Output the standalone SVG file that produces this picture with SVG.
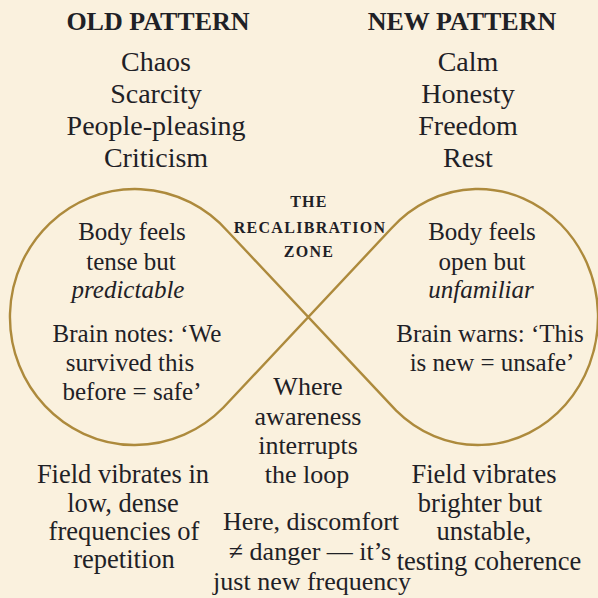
<svg xmlns="http://www.w3.org/2000/svg" width="598" height="598" viewBox="0 0 598 598">
  <style>
    text { font-family: "Liberation Serif", "Times New Roman", serif; fill: #1f2126; text-anchor: middle; }
    .head { font-weight: bold; font-size: 26px; }
    .list { font-size: 28px; }
    .loop { font-size: 25px; }
    .zone { font-weight: bold; font-size: 16px; letter-spacing: 1.3px; }
    .mid { font-size: 26px; }
    .field { font-size: 26.5px; }
    .it { font-style: italic; }
    .curve { fill: none; stroke: #ad8a3c; stroke-width: 2.4; stroke-linejoin: round; }
  </style>

  <rect width="598" height="598" fill="#faf1de"/>

  <!-- infinity loop: two elliptical lobes joined by straight strokes crossing at the centre -->
  <g id="connectors">
    <path class="curve" d="M 228.1,231.7 L 396.2,410.6 A 120 128 0 1 0 391.5,228.3 L 223.4,407.5 A 125 128 0 1 1 228.1,231.7 Z"/>
  </g>

  <g id="old-pattern">
    <text class="head" x="158" y="30">OLD PATTERN</text>
    <text class="list" x="156" y="71">Chaos</text>
    <text class="list" x="156" y="103">Scarcity</text>
    <text class="list" x="156" y="135">People-pleasing</text>
    <text class="list" x="156" y="167">Criticism</text>
  </g>

  <g id="new-pattern">
    <text class="head" x="462" y="30">NEW PATTERN</text>
    <text class="list" x="468" y="71">Calm</text>
    <text class="list" x="468" y="103">Honesty</text>
    <text class="list" x="468" y="135">Freedom</text>
    <text class="list" x="468" y="167">Rest</text>
  </g>

  <g id="old-loop">
    <text class="loop" x="132" y="240">Body feels</text>
    <text class="loop" x="131" y="270">tense but</text>
    <text class="loop it" x="128" y="298">predictable</text>
    <text class="loop" x="137" y="342">Brain notes: ‘We</text>
    <text class="loop" x="130" y="371">survived this</text>
    <text class="loop" x="132" y="400">before = safe’</text>
  </g>

  <g id="new-loop">
    <text class="loop" x="482" y="240">Body feels</text>
    <text class="loop" x="482" y="270">open but</text>
    <text class="loop it" x="481" y="298">unfamiliar</text>
    <text class="loop" x="490" y="342">Brain warns: ‘This</text>
    <text class="loop" x="492" y="371">is new = unsafe’</text>
  </g>

  <g id="recalibration-zone">
    <text class="zone" x="309" y="207">THE</text>
    <text class="zone" x="310" y="233">RECALIBRATION</text>
    <text class="zone" x="309" y="257">ZONE</text>
  </g>

  <g id="awareness">
    <text class="mid" x="308" y="395">Where</text>
    <text class="mid" x="308" y="425">awareness</text>
    <text class="mid" x="308" y="454">interrupts</text>
    <text class="mid" x="307" y="483">the loop</text>
    <text class="mid" x="311" y="530">Here, discomfort</text>
    <text class="mid" x="310" y="560">≠ danger — it’s</text>
    <text class="mid" x="312" y="590">just new frequency</text>
  </g>

  <g id="old-field">
    <text class="field" x="123" y="483">Field vibrates in</text>
    <text class="field" x="123" y="512">low, dense</text>
    <text class="field" x="124" y="540">frequencies of</text>
    <text class="field" x="124" y="568">repetition</text>
  </g>

  <g id="new-field">
    <text class="field" x="484" y="483">Field vibrates</text>
    <text class="field" x="480" y="512">brighter but</text>
    <text class="field" x="484" y="540">unstable,</text>
    <text class="field" x="489" y="570">testing coherence</text>
  </g>
</svg>
